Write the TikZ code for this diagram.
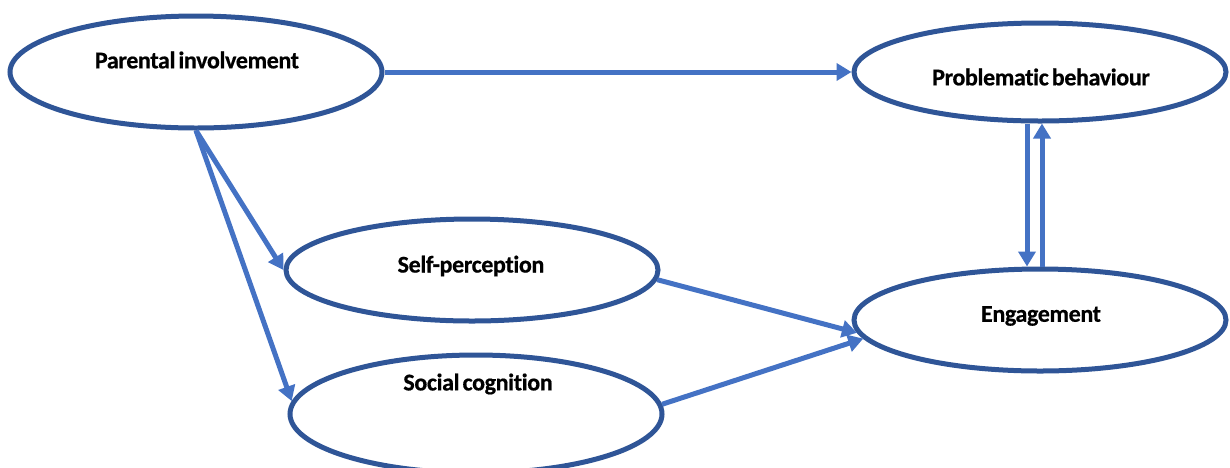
\documentclass[tikz,border=0pt]{standalone}
\usepackage{fontspec}
\setmainfont{Carlito}[Ligatures=NoCommon,WordSpace=0.6,
  BoldFeatures={FakeBold=0.6,LetterSpace=-1.5}]
\usetikzlibrary{shapes.geometric,arrows.meta}
\definecolor{rimblue}{HTML}{2F5597}
\definecolor{arrowblue}{HTML}{4472C4}
\begin{document}
\begin{tikzpicture}[x=1pt,y=-1pt,
  oval/.style={ellipse,draw=rimblue,line width=5pt,fill=white,inner sep=0pt,
    minimum width=372pt,minimum height=#1},
  oval/.default=102pt,
  caption/.style={font=\fontsize{24}{27}\selectfont\bfseries,text=black},
  arr/.style={draw=arrowblue,line width=5pt,
    -{Triangle[length=15pt,width=17pt]}}]
\useasboundingbox (0,0) rectangle (1230,467);
% ellipses
\node[oval=112pt] (pi) at (196,72) {};
\node[oval=98pt] (pb) at (1040,72) {};
\node[oval] (sp) at (472,270) {};
\node[oval=118pt] (sc) at (476,414) {};
\node[oval] (eg) at (1040,320) {};
% captions
\node[caption] (tpi) at (197,60) {Parental involvement};
\node[caption] (tpb) at (1041,77) {Problematic behaviour};
\node[caption] (tsp) at (471,266) {Self-perception};
\node[caption] (tsc) at (478,384) {Social cognition};
\node[caption] (teg) at (1041,316) {Engagement};
% paths
\draw[arr] (pi.east) -- (pb.west);
\draw[arr] (pi.south) -- (sp.west);
\draw[arr] (pi.south) -- (sc.176);
\draw[arr] (sp.-3) -- (eg.184);
\draw[arr] (sc.3) -- (eg.186);
\draw[arr] ([xshift=-13pt]pb.south) -- ([xshift=-13pt]eg.north);
\draw[arr] ([xshift=2pt]eg.north) -- ([xshift=2pt]pb.south);
\end{tikzpicture}
\end{document}
